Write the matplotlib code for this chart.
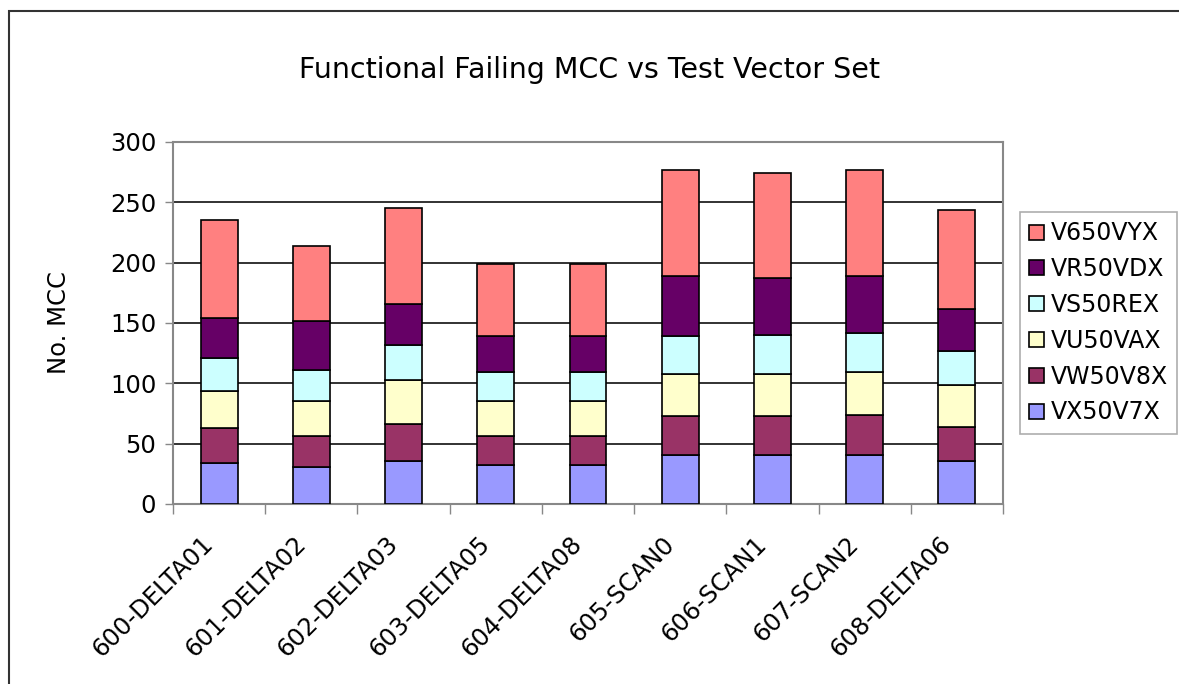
import numpy as np
import matplotlib
matplotlib.use('Agg')
import matplotlib.pyplot as plt
import matplotlib.transforms as mtransforms
from matplotlib.patches import Rectangle

categories = ['600-DELTA01', '601-DELTA02', '602-DELTA03', '603-DELTA05', '604-DELTA08',
              '605-SCAN0', '606-SCAN1', '607-SCAN2', '608-DELTA06']

# stacked from bottom to top
series_names = ['VX50V7X', 'VW50V8X', 'VU50VAX', 'VS50REX', 'VR50VDX', 'V650VYX']
vx50v7x = [34, 31, 36, 32, 32, 41, 41, 41, 36]
vw50v8x = [29, 25, 30, 24, 24, 32, 32, 33, 28]
vu50vax = [31, 29, 37, 29, 29, 35, 35, 35, 35]
vs50rex = [27, 26, 29, 24, 24, 31, 32, 33, 28]
vr50vdx = [33, 41, 34, 30, 30, 50, 47, 47, 35]
v650vyx = [81, 62, 79, 60, 60, 88, 87, 88, 82]
series_values = [vx50v7x, vw50v8x, vu50vax, vs50rex, vr50vdx, v650vyx]
colors = ['#9999FF', '#993366', '#FFFFCC', '#CCFFFF', '#660066', '#FF8080']

plt.rcParams['font.family'] = ['DejaVu Sans']

fig = plt.figure(figsize=(11.79, 6.84), dpi=100)
ax = fig.add_axes([0.1467, 0.2632, 0.704, 0.5292])

x = np.arange(len(categories))
bottom = np.zeros(len(categories))
handles = []
for name, vals, col in zip(series_names, series_values, colors):
    b = ax.bar(x, vals, width=0.4, bottom=bottom, color=col, edgecolor='black',
               linewidth=1.2, label=name, zorder=3)
    bottom += np.array(vals)
    handles.append(b)

ax.set_xlim(-0.5, len(categories) - 0.5)
ax.set_ylim(0, 300)
ax.set_yticks(range(0, 301, 50))
ax.yaxis.grid(True, color='#222222', linewidth=1.3, zorder=0)
ax.tick_params(axis='y', labelsize=17.5, length=6, color='#888888', width=1, pad=6)

ax.set_xticks(np.arange(-0.5, len(categories), 1.0), minor=False)
ax.set_xticklabels([])
ax.set_xticks(x, minor=True)
ax.set_xticklabels(categories, minor=True, rotation=45, ha='right', va='top',
                   rotation_mode='anchor', fontsize=17.5)
ax.tick_params(axis='x', which='major', length=7, color='#888888', width=1)
ax.tick_params(axis='x', which='minor', length=0, pad=20)
shift = mtransforms.ScaledTranslation(-0.18, 0, fig.dpi_scale_trans)
for lbl in ax.get_xticklabels(minor=True):
    lbl.set_transform(lbl.get_transform() + shift)

for s in ax.spines.values():
    s.set_color('#888888')
    s.set_linewidth(1.5)

ax.set_ylabel('No. MCC', fontsize=17.5, labelpad=28)
fig.text(0.5, 0.897, 'Functional Failing MCC vs Test Vector Set', ha='center',
         va='center', fontsize=20.5)

leg = fig.legend(handles[::-1], series_names[::-1], loc='upper left',
                 bbox_to_anchor=(1020 / 1179, 1 - 212 / 684), fontsize=17,
                 frameon=True, fancybox=False, edgecolor='#999999',
                 handlelength=0.6, handleheight=0.6, handletextpad=0.3,
                 labelspacing=0.5, borderpad=0.4, borderaxespad=0)
leg.get_frame().set_linewidth(1.2)

# outer chart frame (extends past right and bottom edges)
fig.add_artist(Rectangle((9 / 1179, -0.1), 1.2, 1.1 - 11 / 684,
                         transform=fig.transFigure, fill=False,
                         edgecolor='#333333', linewidth=1.5))

fig.savefig('out.png', dpi=100)
